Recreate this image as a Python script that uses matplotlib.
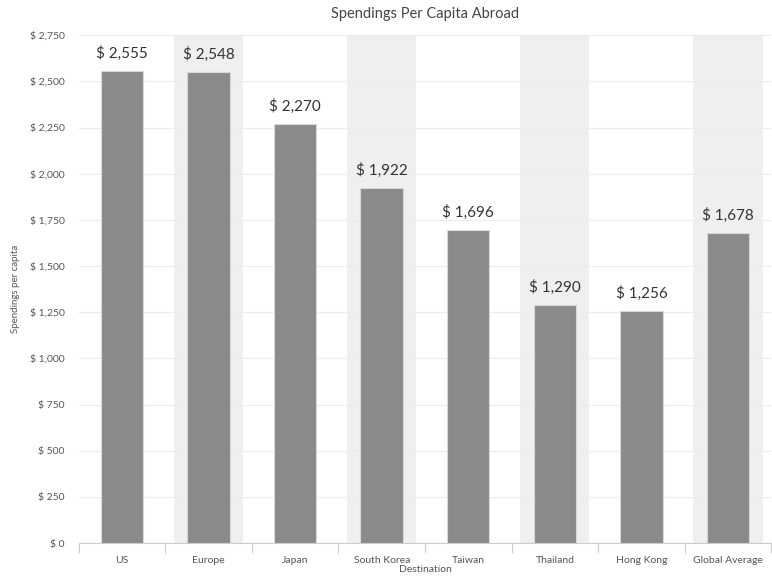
import numpy as np
import matplotlib.pyplot as plt
from matplotlib.ticker import FuncFormatter

destinations = ["US", "Europe", "Japan", "South Korea", "Taiwan",
                "Thailand", "Hong Kong", "Global Average"]
spending = [2555, 2548, 2270, 1922, 1696, 1290, 1256, 1678]

plt.rcParams["font.family"] = ["Lato", "DejaVu Sans"]

fig = plt.figure(figsize=(7.72, 5.76), dpi=100)
ax = fig.add_axes([0.102, 0.057, 0.897, 0.882])

x = np.arange(len(destinations))

# alternating shaded bands
for i in x[1::2]:
    ax.axvspan(i - 0.4, i + 0.4, color="#efefef", zorder=0, lw=0)

ax.bar(x, spending, width=0.49, color="#8a8a8a", edgecolor="#d8d8d8",
       linewidth=0.8, zorder=3)

for xi, v in zip(x, spending):
    ax.text(xi, v + 55, f"$ {v:,}", ha="center", va="bottom",
            fontsize=11, color="#333333", zorder=4)

ax.set_xlim(-0.5, len(destinations) - 0.5)
ax.set_ylim(0, 2750)
ax.set_yticks(np.arange(0, 2751, 250))
ax.yaxis.set_major_formatter(FuncFormatter(lambda v, p: f"$ {int(v):,}"))
ax.set_xticks(x)
ax.set_xticklabels(destinations)
ax.set_xticks(np.arange(-0.5, len(destinations), 1), minor=True)

ax.tick_params(axis="x", which="major", length=0, pad=9, labelsize=7.5, labelcolor="#555555")
ax.tick_params(axis="x", which="minor", length=7, color="#cccccc", width=0.8)
ax.tick_params(axis="y", length=0, pad=10, labelsize=7.5, labelcolor="#555555")

ax.grid(axis="y", color="#ececec", linewidth=0.8, zorder=1)
ax.set_axisbelow(True)
for s in ["top", "right", "left"]:
    ax.spines[s].set_visible(False)
ax.spines["bottom"].set_color("#cccccc")
ax.spines["bottom"].set_linewidth(0.8)

ax.set_title("Spendings Per Capita Abroad", fontsize=10.5, color="#444444", pad=12)
ax.set_xlabel("Destination", fontsize=7.5, color="#555555", labelpad=0)
ax.set_ylabel("Spendings per capita", fontsize=7, color="#555555", labelpad=7)

plt.savefig("out.png", dpi=100)
